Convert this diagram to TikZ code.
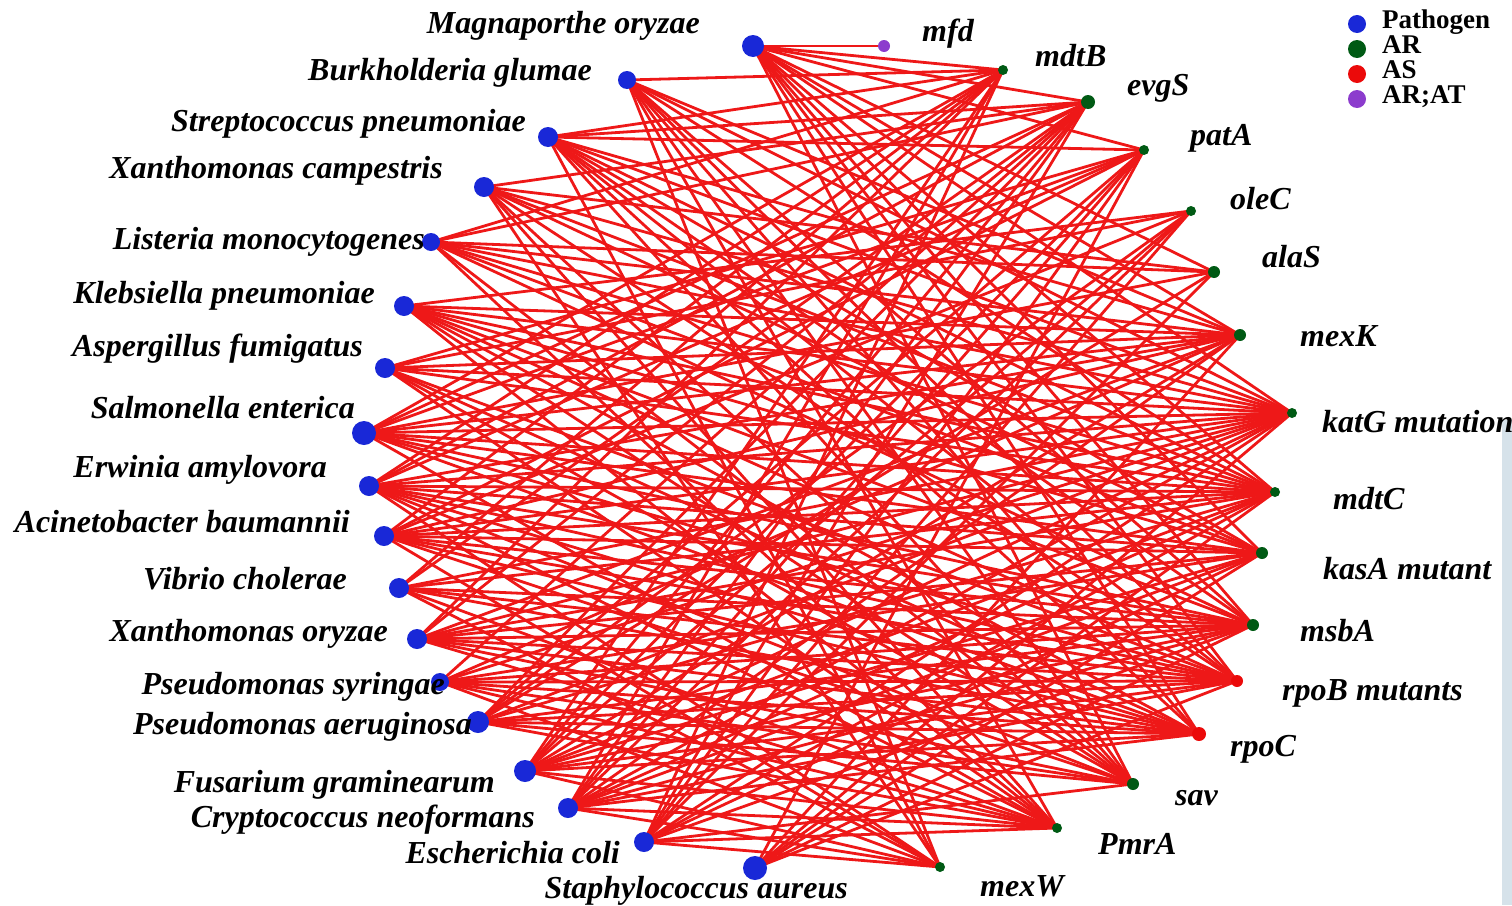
\documentclass[tikz,border=0pt]{standalone}
\usepackage{fontspec}
\setmainfont{Liberation Serif}
\definecolor{pblue}{RGB}{25,40,215}
\definecolor{argreen}{RGB}{0,90,20}
\definecolor{asred}{RGB}{235,10,10}
\definecolor{aratpurple}{RGB}{140,60,205}
\definecolor{edgered}{RGB}{238,24,24}
\definecolor{stripblue}{RGB}{214,226,234}
\pgfdeclarelayer{edges}
\pgfsetlayers{edges,main}
\begin{document}
\begin{tikzpicture}[x=1pt,y=-1pt,
  dotnode/.style={circle,inner sep=0pt,draw=none},
  pat/.style={dotnode,fill=pblue},
  ar/.style={dotnode,fill=argreen},
  as/.style={dotnode,fill=asred},
  arat/.style={dotnode,fill=aratpurple},
  lab/.style={font=\fontsize{32}{32}\selectfont\bfseries\itshape,inner sep=0pt,text height=22pt,text depth=6pt},
  plab/.style={lab,anchor=east},
  glab/.style={lab,anchor=west},
  leg/.style={font=\fontsize{27}{27}\selectfont\bfseries,inner sep=0pt,anchor=base west},
  edge/.style={draw=edgered,line width=2.8pt}]
\useasboundingbox (0,0) rectangle (1512,905);
\fill[stripblue] (1502,420) rectangle (1512,905);
% pathogens
\node[pat,minimum size=22] (p1) at (753,46) {};
\node[pat,minimum size=18] (p2) at (627,80) {};
\node[pat,minimum size=20] (p3) at (548,137) {};
\node[pat,minimum size=20] (p4) at (484,187) {};
\node[pat,minimum size=18] (p5) at (431,242) {};
\node[pat,minimum size=20] (p6) at (404,306) {};
\node[pat,minimum size=20] (p7) at (385,368) {};
\node[pat,minimum size=24] (p8) at (364,433) {};
\node[pat,minimum size=20] (p9) at (369,486) {};
\node[pat,minimum size=20] (p10) at (384,536) {};
\node[pat,minimum size=20] (p11) at (399,588) {};
\node[pat,minimum size=20] (p12) at (417,639) {};
\node[pat,minimum size=18] (p13) at (440,682) {};
\node[pat,minimum size=22] (p14) at (478,722) {};
\node[pat,minimum size=22] (p15) at (525,771) {};
\node[pat,minimum size=20] (p16) at (568,808) {};
\node[pat,minimum size=20] (p17) at (644,842) {};
\node[pat,minimum size=24] (p18) at (755,868) {};
% genes
\node[arat,minimum size=12] (g1) at (884,46) {};
\node[ar,minimum size=10] (g2) at (1003,70) {};
\node[ar,minimum size=14] (g3) at (1088,102) {};
\node[ar,minimum size=10] (g4) at (1144,150) {};
\node[ar,minimum size=10] (g5) at (1191,211) {};
\node[ar,minimum size=12] (g6) at (1214,272) {};
\node[ar,minimum size=12] (g7) at (1240,335) {};
\node[ar,minimum size=10] (g8) at (1292,413) {};
\node[ar,minimum size=10] (g9) at (1275,492) {};
\node[ar,minimum size=12] (g10) at (1262,553) {};
\node[ar,minimum size=12] (g11) at (1253,625) {};
\node[as,minimum size=12] (g12) at (1237,681) {};
\node[as,minimum size=14] (g13) at (1199,734) {};
\node[ar,minimum size=12] (g14) at (1133,784) {};
\node[ar,minimum size=10] (g15) at (1057,828) {};
\node[ar,minimum size=10] (g16) at (940,867) {};
% edges
\begin{pgfonlayer}{edges}
\draw[edge] (p1.center) -- (g1.center);
\pgfmathsetseed{12}
\foreach \j/\pr in {2/0.8,3/0.8,4/0.7,5/0.4,6/0.35,7/0.85,8/1.0,9/0.9,10/0.85,11/0.9,12/0.9,13/0.85,14/0.7,15/0.7,16/0.5}{
  \foreach \i in {1,...,18}{
    \pgfmathtruncatemacro{\ok}{(rnd<\pr)}
    \ifnum\ok=1 \draw[edge] (p\i.center) -- (g\j.center);\fi
  }
}
\end{pgfonlayer}
% pathogen labels
\node[plab] (lp1) at (700,25) {Magnaporthe oryzae};
\node[plab] (lp2) at (592,72) {Burkholderia glumae};
\node[plab] (lp3) at (526,123) {Streptococcus pneumoniae};
\node[plab] (lp4) at (443,170) {Xanthomonas campestris};
\node[plab] (lp5) at (425,241) {Listeria monocytogenes};
\node[plab] (lp6) at (375,295) {Klebsiella pneumoniae};
\node[plab] (lp7) at (363,348) {Aspergillus fumigatus};
\node[plab] (lp8) at (355,410) {Salmonella enterica};
\node[plab] (lp9) at (327,469) {Erwinia amylovora};
\node[plab] (lp10) at (350,524) {Acinetobacter baumannii};
\node[plab] (lp11) at (347,581) {Vibrio cholerae};
\node[plab] (lp12) at (388,633) {Xanthomonas oryzae};
\node[plab] (lp13) at (445,686) {Pseudomonas syringae};
\node[plab] (lp14) at (472,726) {Pseudomonas aeruginosa};
\node[plab] (lp15) at (495,784) {Fusarium graminearum};
\node[plab] (lp16) at (535,819) {Cryptococcus neoformans};
\node[plab] (lp17) at (620,855) {Escherichia coli};
\node[plab] (lp18) at (848,890) {Staphylococcus aureus};
% gene labels
\node[glab] (lg1) at (922,33) {mfd};
\node[glab] (lg2) at (1035,58) {mdtB};
\node[glab] (lg3) at (1127,87) {evgS};
\node[glab] (lg4) at (1190,137) {patA};
\node[glab] (lg5) at (1230,201) {oleC};
\node[glab] (lg6) at (1262,259) {alaS};
\node[glab] (lg7) at (1300,338) {mexK};
\node[glab] (lg8) at (1322,424) {katG mutation};
\node[glab] (lg9) at (1333,501) {mdtC};
\node[glab] (lg10) at (1323,571) {kasA mutant};
\node[glab] (lg11) at (1300,633) {msbA};
\node[glab] (lg12) at (1282,692) {rpoB mutants};
\node[glab] (lg13) at (1230,748) {rpoC};
\node[glab] (lg14) at (1175,797) {sav};
\node[glab] (lg15) at (1098,846) {PmrA};
\node[glab] (lg16) at (980,888) {mexW};
% legend
\node[pat,minimum size=18] (k1) at (1357,24) {};
\node[ar,minimum size=18] (k2) at (1357,49) {};
\node[as,minimum size=18] (k3) at (1357,74) {};
\node[arat,minimum size=18] (k4) at (1357,99) {};
\node[leg] (kt1) at (1382,28) {Pathogen};
\node[leg] (kt2) at (1382,53) {AR};
\node[leg] (kt3) at (1382,78) {AS};
\node[leg] (kt4) at (1382,103) {AR;AT};
\end{tikzpicture}
\end{document}
